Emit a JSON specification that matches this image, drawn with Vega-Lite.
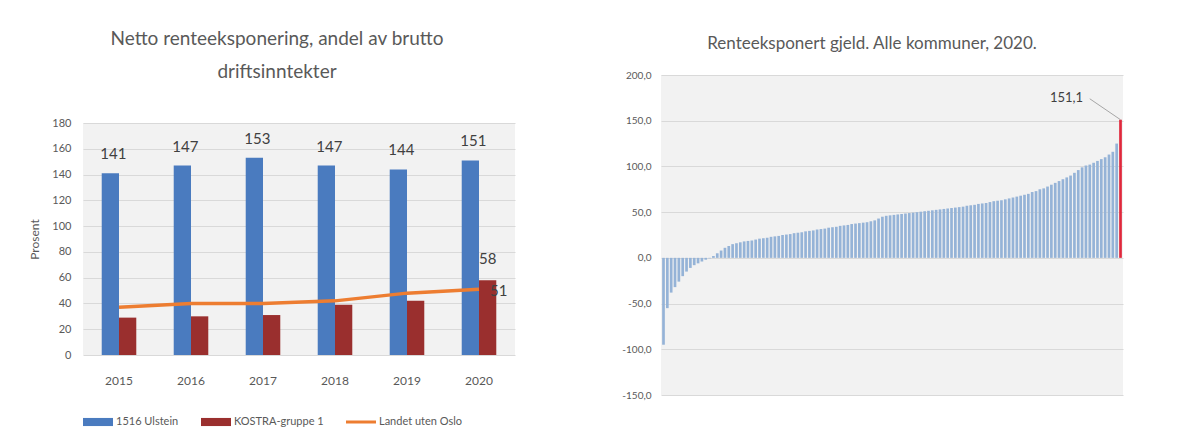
{
  "$schema": "https://vega.github.io/schema/vega-lite/v6.json",
  "background": "white",
  "padding": {"left": 28, "top": 30, "right": 5, "bottom": 5},
  "spacing": 106,
  "config": {
    "locale": {"number": {"decimal": ",", "thousands": " ", "grouping": [3], "currency": ["", " kr"], "minus": "-"}},
    "font": "Lato",
    "view": {"fill": "#f2f2f2", "stroke": null},
    "axis": {"labelColor": "#595959", "titleColor": "#595959", "gridColor": "#d9d9d9", "domain": false, "ticks": false, "labelFont": "Lato", "titleFont": "Lato"},
    "title": {"color": "#595959", "fontWeight": "normal", "font": "Lato", "anchor": "middle"},
    "legend": {"labelColor": "#595959", "labelFont": "Lato"}
  },
  "resolve": {"scale": {"color": "independent"}, "legend": {"color": "independent"}},
  "hconcat": [
    {
      "spacing": 0,
      "vconcat": [
        {
          "width": 432,
          "height": 42,
          "view": {"fill": "transparent", "stroke": null},
          "title": {"text": ["Netto renteeksponering,  andel av brutto", "driftsinntekter"], "fontSize": 19, "lineHeight": 33, "offset": -7, "dx": -22},
          "data": {"values": []},
          "mark": {"type": "point"}
        },
        {
          "width": 432,
          "height": 232,
          "data": {"values": [
            {"aar": "2015", "serie": "1516 Ulstein", "verdi": 141},
            {"aar": "2016", "serie": "1516 Ulstein", "verdi": 147},
            {"aar": "2017", "serie": "1516 Ulstein", "verdi": 153},
            {"aar": "2018", "serie": "1516 Ulstein", "verdi": 147},
            {"aar": "2019", "serie": "1516 Ulstein", "verdi": 144},
            {"aar": "2020", "serie": "1516 Ulstein", "verdi": 151},
            {"aar": "2015", "serie": "KOSTRA-gruppe 1", "verdi": 29},
            {"aar": "2016", "serie": "KOSTRA-gruppe 1", "verdi": 30},
            {"aar": "2017", "serie": "KOSTRA-gruppe 1", "verdi": 31},
            {"aar": "2018", "serie": "KOSTRA-gruppe 1", "verdi": 39},
            {"aar": "2019", "serie": "KOSTRA-gruppe 1", "verdi": 42},
            {"aar": "2020", "serie": "KOSTRA-gruppe 1", "verdi": 58},
            {"aar": "2015", "serie": "Landet uten Oslo", "verdi": 37},
            {"aar": "2016", "serie": "Landet uten Oslo", "verdi": 40},
            {"aar": "2017", "serie": "Landet uten Oslo", "verdi": 40},
            {"aar": "2018", "serie": "Landet uten Oslo", "verdi": 42},
            {"aar": "2019", "serie": "Landet uten Oslo", "verdi": 48},
            {"aar": "2020", "serie": "Landet uten Oslo", "verdi": 51}
          ]},
          "encoding": {
            "x": {"field": "aar", "type": "ordinal", "scale": {"paddingInner": 0.52, "paddingOuter": 0.26},
                  "axis": {"title": null, "labelAngle": 0, "labelFontSize": 12, "labelPadding": 20}},
            "y": {"field": "verdi", "type": "quantitative", "scale": {"domain": [0, 180]},
                  "axis": {"title": "Prosent", "titleFontSize": 12, "titleFontWeight": "normal", "titlePadding": 10, "labelFontSize": 11, "labelPadding": 12, "values": [0, 20, 40, 60, 80, 100, 120, 140, 160, 180]}}
          },
          "layer": [
            {
              "transform": [{"filter": "datum.serie !== 'Landet uten Oslo'"}],
              "mark": {"type": "bar"},
              "encoding": {
                "xOffset": {"field": "serie", "type": "nominal"},
                "color": {"field": "serie", "type": "nominal",
                  "scale": {"domain": ["1516 Ulstein", "KOSTRA-gruppe 1", "Landet uten Oslo"], "range": ["#4a7bbf", "#9a2f2e", "#ed7d31"]},
                  "legend": {"title": null, "orient": "bottom", "direction": "horizontal", "offset": 21, "labelFontSize": 11, "symbolSize": 900, "columnPadding": 22, "labelOffset": 3,
                    "encode": {"symbols": {"update": {
                      "shape": {"signal": "datum.value === 'Landet uten Oslo' ? 'M-1,-0.1H1V0.1H-1Z' : 'M-1,-0.27H1V0.27H-1Z'"},
                      "fill": {"signal": "scale('color', datum.value)"},
                      "strokeWidth": {"value": 0}
                    }}}}
                }
              }
            },
            {
              "transform": [{"filter": "datum.serie === 'Landet uten Oslo'"}],
              "mark": {"type": "line", "strokeWidth": 3.5},
              "encoding": {"color": {"field": "serie", "type": "nominal"}}
            },
            {
              "transform": [{"filter": "datum.serie === '1516 Ulstein'"}],
              "mark": {"type": "text", "baseline": "bottom", "dy": -11, "dx": 3, "fontSize": 15, "color": "#404040"},
              "encoding": {"xOffset": {"field": "serie", "type": "nominal"}, "text": {"field": "verdi"}}
            },
            {
              "transform": [{"filter": "datum.serie === 'KOSTRA-gruppe 1' && datum.aar === '2020'"}],
              "mark": {"type": "text", "baseline": "bottom", "dy": -13, "fontSize": 15, "color": "#404040"},
              "encoding": {"xOffset": {"field": "serie", "type": "nominal"}, "text": {"field": "verdi"}}
            },
            {
              "transform": [{"filter": "datum.serie === 'Landet uten Oslo' && datum.aar === '2020'"}],
              "mark": {"type": "text", "align": "left", "baseline": "middle", "dx": 11, "dy": 2, "fontSize": 15, "color": "#404040"},
              "encoding": {"text": {"field": "verdi"}}
            }
          ]
        }
      ]
    },
    {
      "vconcat": [
        {
          "width": 462,
          "height": 320,
          "title": {"text": "Renteeksponert  gjeld. Alle kommuner, 2020.", "fontSize": 17, "offset": 17, "dx": -20},
          "data": {"values": [
            {"i": 1, "v": -95, "g": "Øvrige"}, {"i": 2, "v": -55, "g": "Øvrige"}, {"i": 3, "v": -38, "g": "Øvrige"}, {"i": 4, "v": -32, "g": "Øvrige"}, {"i": 5, "v": -26, "g": "Øvrige"},
            {"i": 6, "v": -20, "g": "Øvrige"}, {"i": 7, "v": -15, "g": "Øvrige"}, {"i": 8, "v": -11, "g": "Øvrige"}, {"i": 9, "v": -8, "g": "Øvrige"}, {"i": 10, "v": -6, "g": "Øvrige"},
            {"i": 11, "v": -4, "g": "Øvrige"}, {"i": 12, "v": -2, "g": "Øvrige"}, {"i": 13, "v": -0.5, "g": "Øvrige"}, {"i": 14, "v": 2, "g": "Øvrige"}, {"i": 15, "v": 5, "g": "Øvrige"},
            {"i": 16, "v": 8, "g": "Øvrige"}, {"i": 17, "v": 11, "g": "Øvrige"}, {"i": 18, "v": 13, "g": "Øvrige"}, {"i": 19, "v": 15, "g": "Øvrige"}, {"i": 20, "v": 16, "g": "Øvrige"},
            {"i": 21, "v": 17, "g": "Øvrige"}, {"i": 22, "v": 18, "g": "Øvrige"}, {"i": 23, "v": 18.5, "g": "Øvrige"}, {"i": 24, "v": 19, "g": "Øvrige"}, {"i": 25, "v": 20, "g": "Øvrige"},
            {"i": 26, "v": 21, "g": "Øvrige"}, {"i": 27, "v": 21.5, "g": "Øvrige"}, {"i": 28, "v": 22, "g": "Øvrige"}, {"i": 29, "v": 23, "g": "Øvrige"}, {"i": 30, "v": 23.5, "g": "Øvrige"},
            {"i": 31, "v": 24, "g": "Øvrige"}, {"i": 32, "v": 25, "g": "Øvrige"}, {"i": 33, "v": 25.5, "g": "Øvrige"}, {"i": 34, "v": 26, "g": "Øvrige"}, {"i": 35, "v": 27, "g": "Øvrige"},
            {"i": 36, "v": 27.5, "g": "Øvrige"}, {"i": 37, "v": 28, "g": "Øvrige"}, {"i": 38, "v": 29, "g": "Øvrige"}, {"i": 39, "v": 29.5, "g": "Øvrige"}, {"i": 40, "v": 30, "g": "Øvrige"},
            {"i": 41, "v": 31, "g": "Øvrige"}, {"i": 42, "v": 31.5, "g": "Øvrige"}, {"i": 43, "v": 32, "g": "Øvrige"}, {"i": 44, "v": 33, "g": "Øvrige"}, {"i": 45, "v": 33.5, "g": "Øvrige"},
            {"i": 46, "v": 34, "g": "Øvrige"}, {"i": 47, "v": 35, "g": "Øvrige"}, {"i": 48, "v": 35.5, "g": "Øvrige"}, {"i": 49, "v": 36, "g": "Øvrige"}, {"i": 50, "v": 37, "g": "Øvrige"},
            {"i": 51, "v": 37.5, "g": "Øvrige"}, {"i": 52, "v": 38, "g": "Øvrige"}, {"i": 53, "v": 38.5, "g": "Øvrige"}, {"i": 54, "v": 39, "g": "Øvrige"}, {"i": 55, "v": 40, "g": "Øvrige"},
            {"i": 56, "v": 41, "g": "Øvrige"}, {"i": 57, "v": 43, "g": "Øvrige"}, {"i": 58, "v": 45, "g": "Øvrige"}, {"i": 59, "v": 46, "g": "Øvrige"}, {"i": 60, "v": 46.5, "g": "Øvrige"},
            {"i": 61, "v": 47, "g": "Øvrige"}, {"i": 62, "v": 47.5, "g": "Øvrige"}, {"i": 63, "v": 48, "g": "Øvrige"}, {"i": 64, "v": 48.5, "g": "Øvrige"}, {"i": 65, "v": 49, "g": "Øvrige"},
            {"i": 66, "v": 49.5, "g": "Øvrige"}, {"i": 67, "v": 50, "g": "Øvrige"}, {"i": 68, "v": 50.5, "g": "Øvrige"}, {"i": 69, "v": 51, "g": "Øvrige"}, {"i": 70, "v": 51.5, "g": "Øvrige"},
            {"i": 71, "v": 52, "g": "Øvrige"}, {"i": 72, "v": 52.5, "g": "Øvrige"}, {"i": 73, "v": 53, "g": "Øvrige"}, {"i": 74, "v": 53.5, "g": "Øvrige"}, {"i": 75, "v": 54, "g": "Øvrige"},
            {"i": 76, "v": 54.5, "g": "Øvrige"}, {"i": 77, "v": 55, "g": "Øvrige"}, {"i": 78, "v": 55.5, "g": "Øvrige"}, {"i": 79, "v": 56, "g": "Øvrige"}, {"i": 80, "v": 57, "g": "Øvrige"},
            {"i": 81, "v": 57.5, "g": "Øvrige"}, {"i": 82, "v": 58, "g": "Øvrige"}, {"i": 83, "v": 59, "g": "Øvrige"}, {"i": 84, "v": 59.5, "g": "Øvrige"}, {"i": 85, "v": 60, "g": "Øvrige"},
            {"i": 86, "v": 61, "g": "Øvrige"}, {"i": 87, "v": 62, "g": "Øvrige"}, {"i": 88, "v": 62.5, "g": "Øvrige"}, {"i": 89, "v": 63, "g": "Øvrige"}, {"i": 90, "v": 64, "g": "Øvrige"},
            {"i": 91, "v": 65, "g": "Øvrige"}, {"i": 92, "v": 66, "g": "Øvrige"}, {"i": 93, "v": 67, "g": "Øvrige"}, {"i": 94, "v": 68, "g": "Øvrige"}, {"i": 95, "v": 69, "g": "Øvrige"},
            {"i": 96, "v": 70, "g": "Øvrige"}, {"i": 97, "v": 72, "g": "Øvrige"}, {"i": 98, "v": 73, "g": "Øvrige"}, {"i": 99, "v": 75, "g": "Øvrige"}, {"i": 100, "v": 76, "g": "Øvrige"},
            {"i": 101, "v": 78, "g": "Øvrige"}, {"i": 102, "v": 80, "g": "Øvrige"}, {"i": 103, "v": 82, "g": "Øvrige"}, {"i": 104, "v": 84, "g": "Øvrige"}, {"i": 105, "v": 86, "g": "Øvrige"},
            {"i": 106, "v": 88, "g": "Øvrige"}, {"i": 107, "v": 90, "g": "Øvrige"}, {"i": 108, "v": 93, "g": "Øvrige"}, {"i": 109, "v": 96, "g": "Øvrige"}, {"i": 110, "v": 99, "g": "Øvrige"},
            {"i": 111, "v": 101, "g": "Øvrige"}, {"i": 112, "v": 102, "g": "Øvrige"}, {"i": 113, "v": 104, "g": "Øvrige"}, {"i": 114, "v": 106, "g": "Øvrige"}, {"i": 115, "v": 108, "g": "Øvrige"},
            {"i": 116, "v": 110, "g": "Øvrige"}, {"i": 117, "v": 113, "g": "Øvrige"}, {"i": 118, "v": 116, "g": "Øvrige"}, {"i": 119, "v": 125, "g": "Øvrige"}, {"i": 120, "v": 151.1, "g": "1516 Ulstein"}
          ]},
          "encoding": {
            "x": {"field": "i", "type": "ordinal", "axis": null, "scale": {"paddingInner": 0.3, "paddingOuter": 0.3}},
            "y": {"field": "v", "type": "quantitative", "scale": {"domain": [-150, 200]},
                  "axis": {"title": null, "format": ".1f", "labelFontSize": 10, "labelPadding": 10, "values": [-150, -100, -50, 0, 50, 100, 150, 200]}}
          },
          "layer": [
            {
              "mark": {"type": "bar"},
              "encoding": {"color": {"field": "g", "type": "nominal", "legend": null,
                "scale": {"domain": ["Øvrige", "1516 Ulstein"], "range": ["#95b3d7", "#e0283c"]}}}
            },
            {
              "transform": [{"filter": "datum.g === '1516 Ulstein'"}],
              "mark": {"type": "rule", "color": "#a6a6a6", "strokeWidth": 1},
              "encoding": {"x2": {"datum": 112}, "y2": {"datum": 174}}
            },
            {
              "transform": [{"filter": "datum.g === '1516 Ulstein'"}],
              "mark": {"type": "text", "align": "center", "baseline": "middle", "dx": -54, "dy": -22, "fontSize": 13, "color": "#404040"},
              "encoding": {"text": {"field": "v", "type": "quantitative", "format": ".1f"}}
            }
          ]
        }
      ]
    }
  ]
}
